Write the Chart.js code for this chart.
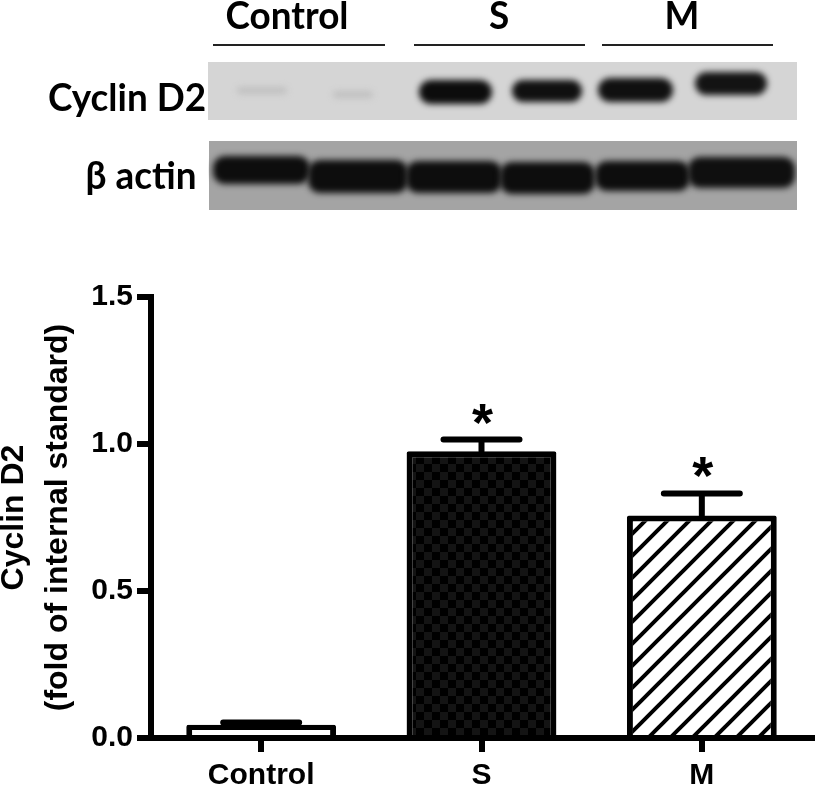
<!DOCTYPE html>
<html>
<head>
<meta charset="utf-8">
<script src="https://cdn.jsdelivr.net/npm/chart.js@4.4.1/dist/chart.umd.min.js"></script>
<style>
  html, body { margin: 0; padding: 0; background: #fff; }
  #wrap { width: 816px; height: 788px; }
</style>
</head>
<body>
<div id="wrap"><canvas id="chart" width="816" height="788"></canvas></div>
<script>
// ── Data ─────────────────────────────────────────────────
const groups      = ['Control', 'S', 'M'];
const cyclinD2    = [0.045, 0.975, 0.757];
const sem         = [0.008, 0.040, 0.075];
const significant = [false, true, true];
const yTicks      = [0, 0.5, 1.0, 1.5];

const AXIS_FONT = '"Liberation Sans", Arial, sans-serif';
const BLOT_FONT = 'Lato, "Liberation Sans Narrow", sans-serif';

const canvas = document.getElementById('chart');
const ctx = canvas.getContext('2d');

// ── Fill patterns ────────────────────────────────────────
function checkerPattern() {
    const c = document.createElement('canvas');
    c.width = c.height = 16;
    const g = c.getContext('2d');
    g.fillStyle = '#000';
    g.fillRect(0, 0, 16, 16);
    g.fillStyle = '#141414';
    g.fillRect(0, 0, 8, 8);
    g.fillRect(8, 8, 8, 8);
    return ctx.createPattern(c, 'repeat');
}

function hatchPattern() {
    const s = 22;
    const c = document.createElement('canvas');
    c.width = c.height = s;
    const g = c.getContext('2d');
    g.fillStyle = '#fff';
    g.fillRect(0, 0, s, s);
    g.strokeStyle = '#000';
    g.lineWidth = 4;
    g.beginPath();
    g.moveTo(-2, s + 2); g.lineTo(s + 2, -2);
    g.moveTo(-4, 4);     g.lineTo(4, -4);
    g.moveTo(s - 4, s + 4); g.lineTo(s + 4, s - 4);
    g.stroke();
    return ctx.createPattern(c, 'repeat');
}

// ── Western blot panel above the graph ───────────────────
const blotPlugin = {
    id: 'blot',
    beforeDraw(chart) {
        const c = chart.ctx;
        c.save();
        c.fillStyle = '#000';
        c.textAlign = 'center';
        c.textBaseline = 'alphabetic';
        c.font = `bold 38px ${BLOT_FONT}`;
        const sx = 123 / c.measureText('Control').width;

        function label(text, cx, base) {
            c.save();
            c.translate(cx, base);
            c.scale(sx, 1);
            c.fillText(text, 0, 0);
            c.restore();
        }
        label('Control', 287, 29);
        label('S', 499, 29);
        label('M', 682, 29);
        label('Cyclin D2', 127, 111);
        label('\u03B2 actin', 141, 189);

        c.strokeStyle = '#222';
        c.lineWidth = 2;
        c.beginPath();
        [[213, 385], [414, 585], [602, 773]].forEach(([a, b]) => {
            c.moveTo(a, 45); c.lineTo(b, 45);
        });
        c.stroke();

        // membranes
        c.fillStyle = '#d5d5d5';
        c.fillRect(208, 62, 589, 58);
        c.fillStyle = '#a4a4a4';
        c.fillRect(209, 141, 588, 69);

        function band(x0, x1, y0, y1, color, blur) {
            c.save();
            c.beginPath();
            c.rect(208, 62, 589, 148);
            c.clip();
            c.filter = `blur(${blur}px)`;
            c.fillStyle = color;
            c.beginPath();
            c.roundRect(x0, y0, x1 - x0, y1 - y0, Math.min(12, (y1 - y0) / 2));
            c.fill();
            c.restore();
        }
        // cyclin D2 lanes
        band(237, 287, 87, 94, '#c0c0c0', 3);
        band(333, 373, 91, 98, '#c0c0c0', 3);
        band(419, 492, 80, 104, '#0c0c0c', 3);
        band(512, 582, 80, 102, '#101010', 3);
        band(598, 673, 78, 102, '#101010', 3);
        band(695, 767, 72, 95, '#131313', 3);
        // beta actin lanes
        band(213, 310, 156, 184, '#0d0d0d', 3);
        band(308, 408, 160, 193, '#0d0d0d', 3);
        band(406, 502, 161, 193, '#0d0d0d', 3);
        band(500, 595, 162, 194, '#0d0d0d', 3);
        band(595, 690, 161, 191, '#0d0d0d', 3);
        band(688, 795, 157, 188, '#0f0f0f', 3);
        c.restore();
    }
};

// ── Error bars and significance marks ────────────────────
const errorBarPlugin = {
    id: 'errorBars',
    afterDatasetsDraw(chart) {
        const c = chart.ctx;
        const y = chart.scales.y;
        const meta = chart.getDatasetMeta(0);
        c.save();
        c.strokeStyle = '#000';
        c.fillStyle = '#000';
        c.lineWidth = 6;
        c.lineCap = 'round';
        meta.data.forEach((bar, i) => {
            const top = y.getPixelForValue(cyclinD2[i]);
            const cap = y.getPixelForValue(cyclinD2[i] + sem[i]);
            c.beginPath();
            c.moveTo(bar.x, top);
            c.lineTo(bar.x, cap);
            c.moveTo(bar.x - 38, cap);
            c.lineTo(bar.x + 38, cap);
            c.stroke();
            if (significant[i]) {
                c.font = `bold 54px ${AXIS_FONT}`;
                c.textAlign = 'center';
                c.textBaseline = 'alphabetic';
                c.fillText('*', bar.x + 1, cap + 1);
            }
        });
        c.restore();
    }
};

const tickFont = { family: AXIS_FONT, size: 30, weight: 'bold' };

new Chart(ctx, {
    type: 'bar',
    data: {
        labels: groups,
        datasets: [{
            data: cyclinD2,
            backgroundColor: ['#ffffff', checkerPattern(), hatchPattern()],
            borderColor: '#000',
            borderWidth: 6,
            borderRadius: 2,
            borderSkipped: 'bottom',
            categoryPercentage: 1,
            barPercentage: 0.68
        }]
    },
    options: {
        responsive: false,
        animation: false,
        devicePixelRatio: 1,
        layout: { padding: { top: 297, right: 4, left: 0, bottom: 0 } },
        plugins: {
            legend:  { display: false },
            tooltip: { enabled: false }
        },
        scales: {
            x: {
                z: 1,
                grid: {
                    drawOnChartArea: false,
                    offset: false,
                    color: '#000',
                    lineWidth: 6,
                    tickLength: 14
                },
                border: { color: '#000', width: 6 },
                ticks: { color: '#000', font: tickFont, padding: 6 },
                afterFit: s => { s.height = 50; }
            },
            y: {
                z: 1,
                min: 0,
                max: 1.5,
                afterBuildTicks: s => { s.ticks = yTicks.map(v => ({ value: v })); },
                grid: {
                    drawOnChartArea: false,
                    color: '#000',
                    lineWidth: 6,
                    tickLength: 14
                },
                border: { color: '#000', width: 6 },
                ticks: {
                    color: '#000',
                    font: tickFont,
                    padding: 4,
                    callback: v => Number(v).toFixed(1)
                },
                title: {
                    display: true,
                    text: ['Cyclin D2', '(fold of internal standard)'],
                    color: '#000',
                    font: { family: AXIS_FONT, size: 32, weight: 'bold', lineHeight: '44px' },
                    padding: { top: -8, bottom: 0 }
                },
                afterFit: s => { s.width = 151; }
            }
        }
    },
    plugins: [blotPlugin, errorBarPlugin]
});
</script>
</body>
</html>
